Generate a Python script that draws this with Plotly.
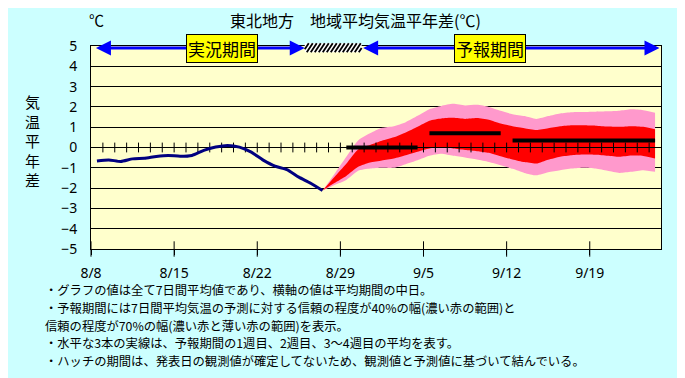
import plotly.graph_objects as go
import pandas as pd

# ---------------- data ----------------
OBS_START = "2024-08-08 12:00"
OBS_ANOM = [-0.66, -0.61, -0.69, -0.56, -0.53, -0.44, -0.39, -0.43, -0.39, -0.14,
            0.02, 0.10, 0.02, -0.23, -0.62, -0.92, -1.09, -1.46, -1.76, -2.12]

FC_START = "2024-08-27 12:00"
FC_70_UPPER = [-2.12, -1.30, -0.45, 0.35, 0.70, 0.97, 1.05, 1.25, 1.56, 1.89,
               2.05, 2.15, 2.07, 2.10, 2.00, 1.81, 1.64, 1.55, 1.41, 1.55,
               1.68, 1.74, 1.75, 1.76, 1.78, 1.81, 1.88, 1.84, 1.71]
FC_40_UPPER = [-2.12, -1.45, -0.80, -0.10, 0.12, 0.33, 0.50, 0.74, 1.02, 1.32,
               1.43, 1.46, 1.41, 1.45, 1.37, 1.18, 1.05, 0.95, 0.86, 0.95,
               1.05, 1.10, 1.09, 1.07, 1.03, 1.02, 1.05, 1.02, 0.90]
FC_40_LOWER = [-2.12, -1.75, -1.40, -0.95, -0.74, -0.64, -0.54, -0.38, -0.21, -0.05,
               0.02, -0.05, -0.12, -0.18, -0.26, -0.43, -0.59, -0.72, -0.79, -0.60,
               -0.45, -0.38, -0.35, -0.36, -0.41, -0.46, -0.40, -0.42, -0.54]
FC_70_LOWER = [-2.12, -1.85, -1.60, -1.15, -1.04, -1.00, -1.00, -0.82, -0.63, -0.41,
               -0.31, -0.41, -0.49, -0.59, -0.71, -0.87, -1.05, -1.25, -1.37, -1.22,
               -1.12, -1.04, -1.00, -1.04, -1.15, -1.25, -1.20, -1.12, -1.20]

WEEK_START = ["2024-08-29 12:00", "2024-09-05 12:00", "2024-09-12 12:00"]
WEEK_END = ["2024-09-04 12:00", "2024-09-11 12:00", "2024-09-24 12:00"]
WEEK_MEAN = [0.0, 0.7, 0.35]

X_TICK_DATES = ["2024-08-08", "2024-08-15", "2024-08-22", "2024-08-29",
                "2024-09-05", "2024-09-12", "2024-09-19"]
X_TICK_TEXT = ["8/8", "8/15", "8/22", "8/29", "9/5", "9/12", "9/19"]
Y_TICKS = list(range(-5, 6))
X_RANGE = ["2024-08-08", "2024-09-25"]
Y_RANGE = [-5, 5]
ZERO_TICK_FIRST = "2024-08-09"
ZERO_TICK_LAST = "2024-09-24"

HATCH_SPAN = ["2024-08-26 00:00", "2024-08-30 19:00"]
OBS_ARROW = ["2024-08-08 07:00", "2024-08-26 00:00"]
FC_ARROW = ["2024-08-30 19:00", "2024-09-24 21:00"]
OBS_LABEL_X = "2024-08-19 00:00"
FC_LABEL_X = "2024-09-10 15:00"

TITLE = "東北地方　地域平均気温平年差(℃)"
UNIT = "℃"
YTITLE = "気温平年差"
NOTES = [
    "・グラフの値は全て7日間平均値であり、横軸の値は平均期間の中日。",
    "・予報期間には7日間平均気温の予測に対する信頼の程度が40%の幅(濃い赤の範囲)と",
    "信頼の程度が70%の幅(濃い赤と薄い赤の範囲)を表示。",
    "・水平な3本の実線は、予報期間の1週目、2週目、3～4週目の平均を表す。",
    "・ハッチの期間は、発表日の観測値が確定してないため、観測値と予測値に基づいて結んでいる。",
]

# ---------------- figure ----------------
FONT = "Noto Sans CJK JP"
TICK_FONT = "Noto Sans"
OFF = 8                      # page body margin of the browser
W, H = 685 - OFF, 378 - OFF
ML, MR, MT, MB = 83, 24, 38, 129
PW, PH = W - ML - MR, H - MT - MB


def pp(px, py):
    """reference-image pixel -> paper coords"""
    return (px - OFF - ML) / PW, (H - MB - (py - OFF)) / PH


obs_x = pd.date_range(OBS_START, periods=len(OBS_ANOM), freq="D")
fc_x = pd.date_range(FC_START, periods=len(FC_40_UPPER), freq="D")
zero_ticks = pd.date_range(ZERO_TICK_FIRST, ZERO_TICK_LAST, freq="D")

PINK = "#FF99CC"
RED = "#FF0000"

fig = go.Figure()
spl = dict(shape="spline", smoothing=0.6, width=0)
fig.add_trace(go.Scatter(x=fc_x, y=FC_70_LOWER, mode="lines", line=spl,
                         showlegend=False, hoverinfo="skip"))
fig.add_trace(go.Scatter(x=fc_x, y=FC_70_UPPER, mode="lines", line=spl,
                         fill="tonexty", fillcolor=PINK, showlegend=False))
fig.add_trace(go.Scatter(x=fc_x, y=FC_40_LOWER, mode="lines", line=spl,
                         showlegend=False, hoverinfo="skip"))
fig.add_trace(go.Scatter(x=fc_x, y=FC_40_UPPER, mode="lines", line=spl,
                         fill="tonexty", fillcolor=RED, showlegend=False))

# zero line with daily ticks (drawn above the bands)
fig.add_trace(go.Scatter(x=X_RANGE, y=[0, 0], mode="lines",
                         line=dict(color="black", width=1), showlegend=False,
                         hoverinfo="skip"))
fig.add_trace(go.Scatter(x=zero_ticks, y=[0] * len(zero_ticks), mode="markers",
                         marker=dict(symbol="line-ns", size=7,
                                     line=dict(color="black", width=1)),
                         showlegend=False, hoverinfo="skip"))

# observed
fig.add_trace(go.Scatter(x=obs_x, y=OBS_ANOM, mode="lines",
                         line=dict(color="#000080", width=3, shape="spline", smoothing=0.6),
                         showlegend=False))

# weekly means
for s, e, v in zip(WEEK_START, WEEK_END, WEEK_MEAN):
    fig.add_trace(go.Scatter(x=[s, e], y=[v, v], mode="lines",
                             line=dict(color="black", width=4), showlegend=False))

# crossing ticks at bottom axis
fig.add_trace(go.Scatter(x=X_TICK_DATES, y=[Y_RANGE[0]] * len(X_TICK_DATES), mode="markers",
                         marker=dict(symbol="line-ns", size=11,
                                     line=dict(color="black", width=1)),
                         cliponaxis=False, showlegend=False, hoverinfo="skip"))

# ---- hatch box (drawn with shapes so it may poke above the frame) ----
shapes = []
HY = [4.69, 5.13]                      # data-y extent of the hatch strip
yb = (HY[0] - Y_RANGE[0]) / (Y_RANGE[1] - Y_RANGE[0])
yt = (HY[1] - Y_RANGE[0]) / (Y_RANGE[1] - Y_RANGE[0])
x0r = pd.Timestamp(X_RANGE[0])
days_total = (pd.Timestamp(X_RANGE[1]) - x0r) / pd.Timedelta(days=1)
px_day = PW / days_total
L = (pd.Timestamp(HATCH_SPAN[0]) - x0r) / pd.Timedelta(days=1)
R = (pd.Timestamp(HATCH_SPAN[1]) - x0r) / pd.Timedelta(days=1)


def d2t(d):
    return x0r + pd.Timedelta(days=d)


shapes.append(dict(type="rect", xref="x", yref="paper", x0=d2t(L), x1=d2t(R), y0=yb, y1=yt,
                   fillcolor="white", line=dict(width=0), layer="above"))
spacing = 4.0 / px_day
run = 6.0 / px_day
k = 0
while True:
    xb = L - run + k * spacing
    if xb > R:
        break
    umin = max(0.0, (L - xb) / run)
    umax = min(1.0, (R - xb) / run)
    if umin < umax:
        shapes.append(dict(type="line", xref="x", yref="paper",
                           x0=d2t(xb + umin * run), x1=d2t(xb + umax * run),
                           y0=yb + umin * (yt - yb), y1=yb + umax * (yt - yb),
                           line=dict(color="black", width=1.8), layer="above"))
    k += 1

annotations = []
# arrows
for a, b in (OBS_ARROW, FC_ARROW):
    annotations.append(dict(x=b, y=4.9, ax=a, ay=4.9, xref="x", yref="y", axref="x", ayref="y",
                            text="", showarrow=True, arrowside="end+start", arrowhead=2,
                            startarrowhead=2, arrowsize=1, startarrowsize=1, arrowwidth=3,
                            arrowcolor="#0000FF", standoff=0, startstandoff=0))
for lx, txt in ((OBS_LABEL_X, "実況期間"), (FC_LABEL_X, "予報期間")):
    annotations.append(dict(x=lx, y=4.9, xref="x", yref="y", text=txt, showarrow=False,
                            bgcolor="#FFFF00", bordercolor="black", borderwidth=1, borderpad=1,
                            font=dict(family=FONT, size=17, color="black")))

x, y = pp(355, 19.5)
annotations.append(dict(x=x, y=y, xref="paper", yref="paper", text=TITLE, showarrow=False,
                        xanchor="center", yanchor="middle", borderpad=0,
                        font=dict(family=FONT, size=16, color="black")))
x, y = pp(96, 19)
annotations.append(dict(x=x, y=y, xref="paper", yref="paper", text=UNIT, showarrow=False,
                        xanchor="center", yanchor="middle", borderpad=0,
                        font=dict(family=FONT, size=15, color="black")))
x, y = pp(32, 140)
annotations.append(dict(x=x, y=y, xref="paper", yref="paper", text="<br>".join(YTITLE),
                        showarrow=False, xanchor="center", yanchor="middle",
                        font=dict(family=FONT, size=15, color="black")))
NOTE_PITCH = 17.8
for k, line in enumerate(NOTES):
    x, y = pp(44, 290 + NOTE_PITCH * k)
    annotations.append(dict(x=x, y=y, xref="paper", yref="paper", text=line,
                            showarrow=False, xanchor="left", yanchor="middle", align="left",
                            borderpad=0, font=dict(family=FONT, size=12.3, color="black")))

fig.update_layout(
    width=W, height=H,
    margin=dict(l=ML, r=MR, t=MT, b=MB),
    paper_bgcolor="#CCFFFF",
    plot_bgcolor="#FFFFCC",
    font=dict(family=FONT, size=14, color="black"),
    showlegend=False,
    annotations=annotations,
    shapes=shapes,
)
fig.update_xaxes(type="date", range=X_RANGE, tickvals=X_TICK_DATES, ticktext=X_TICK_TEXT,
                 ticks="outside", ticklen=5, tickcolor="black", showgrid=False,
                 showline=True, linecolor="black", linewidth=1, mirror=True,
                 ticklabelstandoff=6, tickfont=dict(family=TICK_FONT, size=14))
fig.update_yaxes(range=Y_RANGE, tickvals=Y_TICKS, showgrid=True, gridcolor="black", gridwidth=1,
                 zeroline=False, showline=True, linecolor="black", linewidth=1, mirror=True,
                 ticks="", ticklabelstandoff=10, tickfont=dict(family=TICK_FONT, size=14))

fig.write_html("out.html")
